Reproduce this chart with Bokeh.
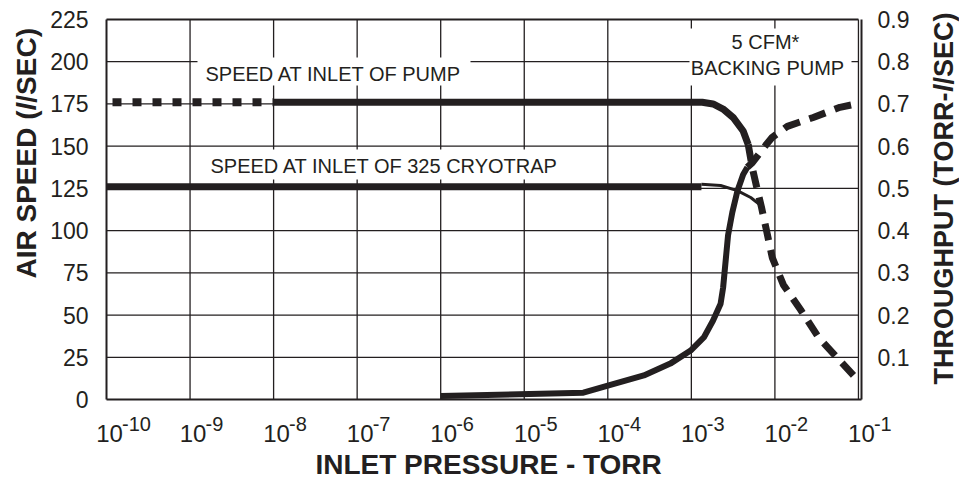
import math
from bokeh.plotting import figure
from bokeh.models import Range1d, Label, BoxAnnotation
from bokeh.embed import file_html
from bokeh.resources import INLINE

INK = "#231f20"
FONT = "Liberation Sans"

# ---------------- data ----------------
speed_ticks = [0, 25, 50, 75, 100, 125, 150, 175, 200, 225]
speed_grid = [25, 50, 75, 100, 125, 150, 200]
throughput_ticks = [0.1, 0.2, 0.3, 0.4, 0.5, 0.6, 0.7, 0.8, 0.9]
decade_exponents = [-10, -9, -8, -7, -6, -5, -4, -3, -2, -1]

# speed at inlet of pump (l/sec)
pump_dotted_p = [1e-10, 1e-8]
pump_dotted_s = [176, 176]
pump_p = [1e-8, 1e-3, 1.35e-3, 1.82e-3, 2.4e-3, 3.16e-3, 4.17e-3, 4.79e-3]
pump_s = [176, 176, 176, 175, 172, 167, 159, 151]
# 5 CFM backing pump speed (dashed)
backing_p = [4.79e-3, 5.37e-3, 6.17e-3, 6.9e-3, 7.94e-3, 9.3e-3, 1.26e-2, 2.04e-2, 3.3e-2, 5.75e-2, 1e-1]
backing_s = [151, 137, 124, 114, 100, 84, 68, 53, 37, 24, 11]
# speed at inlet of 325 cryotrap
cryo_p = [1e-10, 1.32e-3]
cryo_s = [126, 126]
cryo_tail_p = [1.32e-3, 2.24e-3, 3.55e-3, 5.13e-3, 6.76e-3, 7.08e-3]
cryo_tail_s = [127.5, 126.7, 123.7, 119.6, 114.9, 113.5]
# throughput (torr-l/sec)
thr_p = [1e-6, 5.1e-5, 1e-4, 2.7e-4, 5.6e-4, 9.8e-4, 1.41e-3, 1.82e-3, 2.24e-3,
         2.4e-3, 2.75e-3, 3.09e-3, 3.55e-3, 4.17e-3, 4.68e-3]
thr_q = [0.008, 0.016, 0.033, 0.057, 0.085, 0.116, 0.147, 0.187, 0.227,
         0.265, 0.389, 0.443, 0.493, 0.533, 0.550]
backing_thr_p = [4.68e-3, 5.37e-3, 7.76e-3, 9.3e-3, 1.41e-2, 2.88e-2, 6.0e-2, 1e-1]
backing_thr_q = [0.550, 0.561, 0.602, 0.621, 0.647, 0.668, 0.692, 0.701]

# ---------------- layout helpers (picture pixels -> data) ----------------
W, H = 959, 481
DEC_PX = 83.55            # pixels per decade
BOX_L, BOX_T, BOX_B = 106, 19, 399
def X(px):
    return 10 ** (-10 + (px - BOX_L) / DEC_PX)
def Y(py):
    return (BOX_B - py) * 225 / (BOX_B - BOX_T)
TP_PER_SPEED = 0.9 / 225

p = figure(width=W, height=H, x_axis_type="log", x_axis_location=None, y_axis_location=None,
           x_range=Range1d(X(0), X(W)), y_range=Range1d(Y(H), Y(0)),
           output_backend="svg", toolbar_location=None,
           min_border=0, min_border_left=0, min_border_right=0, min_border_top=0, min_border_bottom=0,
           background_fill_color="white", border_fill_color="white")
p.outline_line_color = None
p.xgrid.visible = False
p.ygrid.visible = False
p.extra_y_ranges = {"tp": Range1d(Y(H) * TP_PER_SPEED, Y(0) * TP_PER_SPEED)}

x_lo, x_hi = 10.0 ** decade_exponents[0], 10.0 ** (decade_exponents[-1])
tp_axis_x = X(861)

# ---- grid and box ----
inner_dec = [10.0 ** e for e in decade_exponents[1:]]
p.segment(x0=inner_dec, y0=[0] * len(inner_dec), x1=inner_dec, y1=[225] * len(inner_dec),
          line_color=INK, line_width=1.3)
p.segment(x0=[x_lo] * len(speed_grid), y0=speed_grid, x1=[x_hi] * len(speed_grid), y1=speed_grid,
          line_color=INK, line_width=1.3)
# frame lines: left / bottom / top, plus the throughput axis line
p.segment(x0=[x_lo, x_lo, x_lo], y0=[0, 0, 225], x1=[x_lo, tp_axis_x, x_hi], y1=[225, 0, 225],
          line_color=INK, line_width=2)
p.segment(x0=[tp_axis_x], y0=[0], x1=[tp_axis_x], y1=[225], line_color=INK, line_width=2)

# ---- curves ----
p.line(pump_dotted_p, [175, 175], line_width=1.3, color=INK)
p.line(pump_dotted_p, pump_dotted_s, line_width=8, color=INK, line_dash="9 11", line_dash_offset=14)
p.line(pump_p, pump_s, line_width=7, color=INK, line_join="round")
p.line(backing_p, backing_s, line_width=7, color=INK, line_dash="17 10")
p.line(cryo_p, cryo_s, line_width=7, color=INK)
p.line(cryo_tail_p, cryo_tail_s, line_width=3, color=INK, line_join="round")
p.line(thr_p, thr_q, line_width=6, color=INK, line_join="round", y_range_name="tp")
p.line(backing_thr_p, backing_thr_q, line_width=7, color=INK, line_dash="17 10", y_range_name="tp")

def txt(text, x, y, size, align="left", angle=0.0, style="normal", **kw):
    p.add_layout(Label(x=x, y=y, text=text, text_align=align, text_baseline="middle",
                       angle=angle, text_font=FONT, text_font_size=size,
                       text_font_style=style, text_color=INK, **kw))

# ---- tick labels ----
for v in speed_ticks:
    txt(str(v), X(88), v, "23px", align="right")
for v in throughput_ticks:
    txt(str(v), X(877), v, "23px", align="left", y_range_name="tp")
for e in decade_exponents:
    d = 10.0 ** e
    txt("10", d * 10 ** (3 / DEC_PX), Y(433), "24px", align="center")
    txt(str(e), d * 10 ** (15.5 / DEC_PX), Y(423.5), "20px")

# ---- white boxes behind the notes, and the notes ----
for (l, r, t, b) in [(197, 470, 57, 85), (203, 563, 149, 179), (689, 851, 28, 85)]:
    p.add_layout(BoxAnnotation(left=X(l), right=X(r), top=Y(t), bottom=Y(b),
                               fill_color="white", fill_alpha=1.0, line_color=None))
txt("SPEED AT INLET OF PUMP", X(205), Y(73.5), "20px")
txt("SPEED AT INLET OF 325 CRYOTRAP", X(210), Y(165), "20px")
txt("5 CFM*", X(765), Y(41), "20px", align="center")
txt("BACKING PUMP", X(767), Y(67), "20px", align="center")

# ---- axis titles (italic l as its own piece) ----
up = math.pi / 2
txt("AIR SPEED (", X(25.5), Y(278), "28px", angle=up, style="bold")
txt("l", X(25.5), Y(278 - 168.0), "28px", angle=up, style="bold italic")
txt("/SEC)", X(25.5), Y(278 - 175.8), "28px", angle=up, style="bold")
txt("THROUGHPUT (TORR-", X(943.5), Y(384), "27px", angle=up, style="bold")
txt("l", X(943.5), Y(384 - 292.5), "27px", angle=up, style="bold italic")
txt("/SEC)", X(943.5), Y(384 - 300.0), "27px", angle=up, style="bold")
txt("INLET PRESSURE  - TORR", X(492), Y(464), "28px", align="center", style="bold")

open("out.html", "w").write(file_html(p, INLINE))
